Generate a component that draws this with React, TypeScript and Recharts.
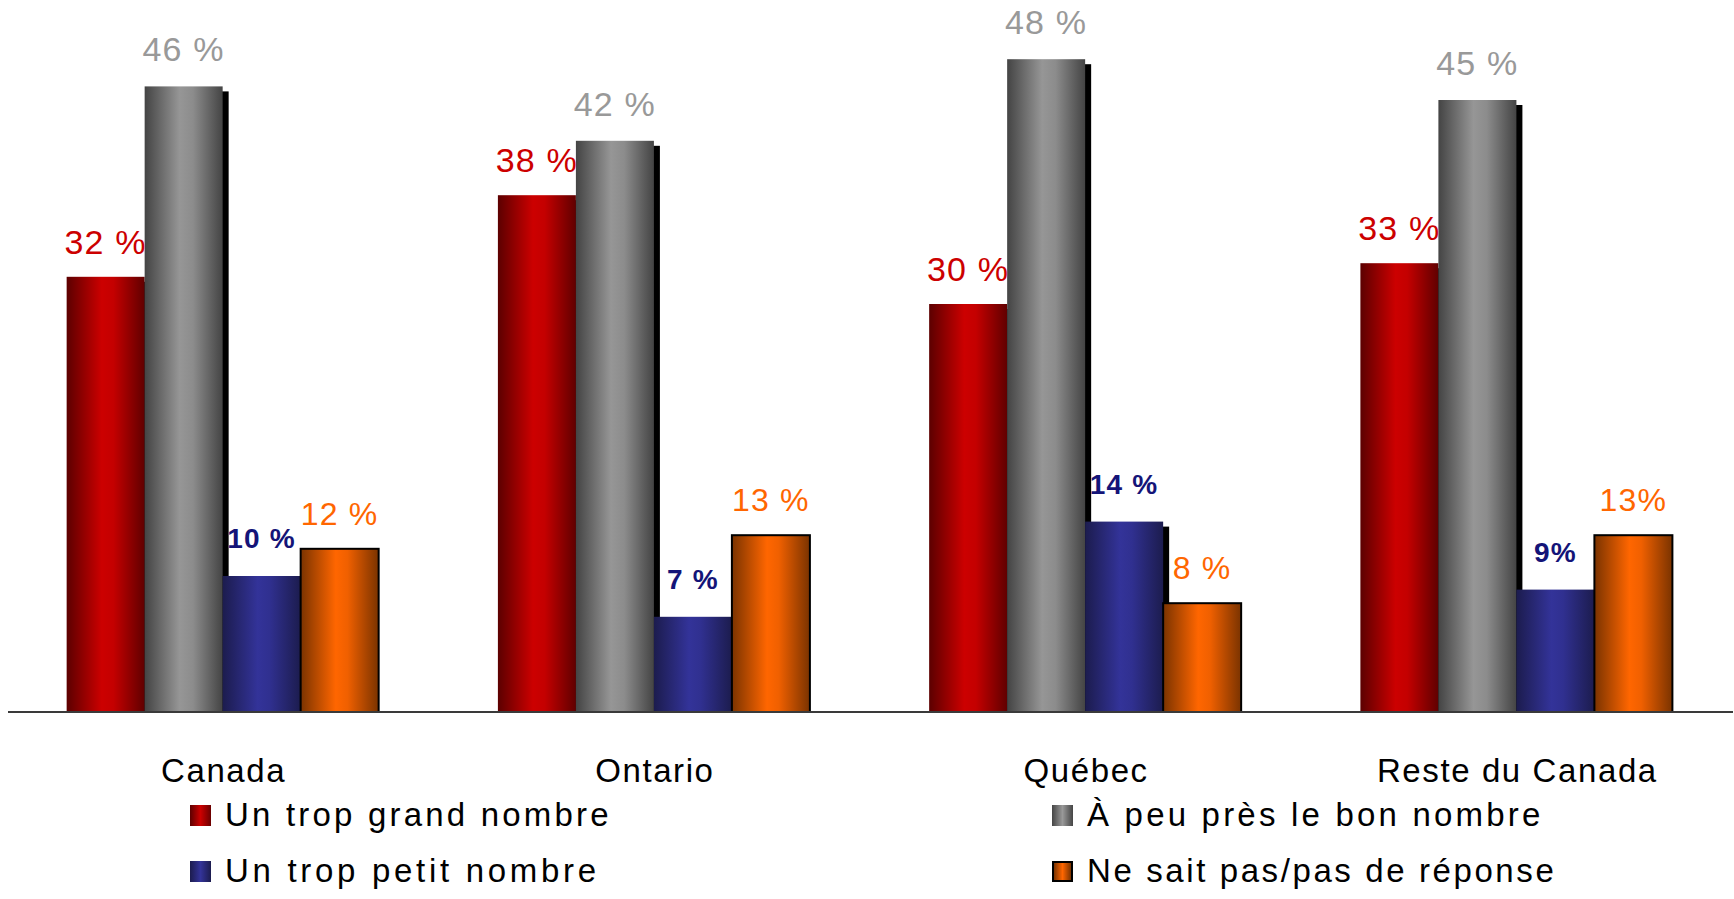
import React from "react";
import { BarChart, Bar, XAxis, YAxis, LabelList, Legend } from "recharts";

const categories = ["Canada", "Ontario", "Québec", "Reste du Canada"];
const tropGrand = [32, 38, 30, 33];
const bonNombre = [46, 42, 48, 45];
const tropPetit = [10, 7, 14, 9];
const nsp = [12, 13, 8, 13];

const tropGrandLabels = ["32 %", "38 %", "30 %", "33 %"];
const bonNombreLabels = ["46 %", "42 %", "48 %", "45 %"];
const tropPetitLabels = ["10 %", "7 %", "14 %", "9%"];
const nspLabels = ["12 %", "13 %", "8 %", "13%"];

const seriesNames = [
  "Un trop grand nombre",
  "À peu près le bon nombre",
  "Un trop petit nombre",
  "Ne sait pas/pas de réponse",
];

const data = categories.map((c, i) => ({
  name: c,
  grand: tropGrand[i],
  bon: bonNombre[i],
  petit: tropPetit[i],
  nsp: nsp[i],
}));

const FONT = "'Liberation Sans', Arial, sans-serif";

const makeShape = (gradId: string, shadow: boolean, stroke?: string) => (props: any) => {
  const { x, y, width, height } = props;
  if (height == null || width == null) return <g />;
  return (
    <g>
      {shadow && (
        <rect x={x + 6} y={y + 5} width={width} height={Math.max(0, height - 5)} fill="#000" />
      )}
      <rect
        x={x}
        y={y}
        width={width}
        height={height}
        fill={`url(#${gradId})`}
        stroke={stroke || "none"}
        strokeWidth={stroke ? 2 : 0}
      />
    </g>
  );
};

const makeLabel =
  (labels: string[], color: string, size: number, weight: number | string, gap: number) =>
  (props: any) => {
    const vb = props.viewBox || {};
    const x = props.x ?? vb.x;
    const y = props.y ?? vb.y;
    const width = props.width ?? vb.width;
    const index = props.index;
    return (
      <text
        x={x + width / 2}
        y={y - gap}
        textAnchor="middle"
        fill={color}
        fontSize={size}
        fontWeight={weight}
        fontFamily={FONT}
        letterSpacing={1.2}
      >
        {labels[index]}
      </text>
    );
  };

const CatTick = (props: any) => {
  const { x, y, payload } = props;
  return (
    <text
      x={x}
      y={y + 70}
      textAnchor="middle"
      fill="#000"
      fontSize={33}
      fontFamily={FONT}
      letterSpacing={1.6}
    >
      {payload.value}
    </text>
  );
};

const markerGrad: Record<string, string> = {
  "Un trop grand nombre": "linear-gradient(to right, #5c0000, #cc0000 50%, #6a0000)",
  "À peu près le bon nombre": "linear-gradient(to right, #454545, #999999 50%, #454545)",
  "Un trop petit nombre": "linear-gradient(to right, #1c1c4e, #333399 50%, #1c1c4e)",
  "Ne sait pas/pas de réponse": "linear-gradient(to right, #7a3300, #ff6600 50%, #7a3300)",
};

const legendPos = [
  { mx: 190, tx: 225, row: 0, ls: 3.2 },
  { mx: 1052, tx: 1087, row: 0, ls: 3.2 },
  { mx: 190, tx: 225, row: 1, ls: 3.7 },
  { mx: 1052, tx: 1087, row: 1, ls: 2.6 },
];

const LegendContent = () => (
  <div style={{ position: "relative", width: 1734, height: 120 }}>
    {seriesNames.map((n, i) => {
      const p = legendPos[i];
      const top = p.row * 56;
      return (
        <React.Fragment key={n}>
          <div
            style={{
              position: "absolute",
              left: p.mx,
              top: top + 15,
              width: 21,
              height: 21,
              background: markerGrad[n],
              boxSizing: "border-box",
              border: i === 3 ? "2px solid #000" : "none",
            }}
          />
          <div
            style={{
              position: "absolute",
              left: p.tx,
              top: top + 1,
              fontFamily: FONT,
              fontSize: 33,
              letterSpacing: p.ls,
              lineHeight: "48px",
              color: "#000",
              whiteSpace: "nowrap",
            }}
          >
            {n}
          </div>
        </React.Fragment>
      );
    })}
  </div>
);

export default function App() {
  return (
    <div style={{ position: "absolute", left: 0, top: 0, width: 1734, height: 899, background: "#fff" }}>
      <BarChart
        width={1734}
        height={899}
        data={data}
        margin={{ top: 32, right: 1, left: 8, bottom: 157 }}
        barCategoryGap="13.6%"
        barGap={0}
      >
        <defs>
          <linearGradient id="gRed" x1="0" y1="0" x2="1" y2="0">
            <stop offset="0" stopColor="#5c0000" />
            <stop offset="0.45" stopColor="#cc0000" />
            <stop offset="0.6" stopColor="#c40000" />
            <stop offset="1" stopColor="#600000" />
          </linearGradient>
          <linearGradient id="gGray" x1="0" y1="0" x2="1" y2="0">
            <stop offset="0" stopColor="#444444" />
            <stop offset="0.45" stopColor="#969696" />
            <stop offset="0.62" stopColor="#8c8c8c" />
            <stop offset="1" stopColor="#444444" />
          </linearGradient>
          <linearGradient id="gBlue" x1="0" y1="0" x2="1" y2="0">
            <stop offset="0" stopColor="#1c1c4e" />
            <stop offset="0.45" stopColor="#333399" />
            <stop offset="0.6" stopColor="#303090" />
            <stop offset="1" stopColor="#1c1c4e" />
          </linearGradient>
          <linearGradient id="gOrange" x1="0" y1="0" x2="1" y2="0">
            <stop offset="0" stopColor="#7a3300" />
            <stop offset="0.45" stopColor="#ff6600" />
            <stop offset="0.6" stopColor="#f06000" />
            <stop offset="1" stopColor="#7a3300" />
          </linearGradient>
        </defs>
        <XAxis
          dataKey="name"
          height={30}
          tickLine={false}
          tickSize={0}
          tickMargin={0}
          axisLine={{ stroke: "#3a3a3a", strokeWidth: 2 }}
          tick={<CatTick />}
          interval={0}
        />
        <YAxis hide domain={[0, 50]} />
        <Legend
          layout="horizontal"
          verticalAlign="middle"
          align="center"
          wrapperStyle={{ left: 0, top: 790, width: 1734 }}
          content={<LegendContent />}
        />
        <Bar dataKey="grand" name={seriesNames[0]} isAnimationActive={false} shape={makeShape("gRed", true)}>
          <LabelList dataKey="grand" content={makeLabel(tropGrandLabels, "#cc0000", 34, 400, 23)} />
        </Bar>
        <Bar dataKey="bon" name={seriesNames[1]} isAnimationActive={false} shape={makeShape("gGray", true)}>
          <LabelList dataKey="bon" content={makeLabel(bonNombreLabels, "#999999", 34, 400, 25)} />
        </Bar>
        <Bar dataKey="petit" name={seriesNames[2]} isAnimationActive={false} shape={makeShape("gBlue", true)}>
          <LabelList dataKey="petit" content={makeLabel(tropPetitLabels, "#141478", 28, 700, 28)} />
        </Bar>
        <Bar dataKey="nsp" name={seriesNames[3]} isAnimationActive={false} shape={makeShape("gOrange", false, "#000")}>
          <LabelList dataKey="nsp" content={makeLabel(nspLabels, "#ff6600", 32, 400, 24)} />
        </Bar>
      </BarChart>
    </div>
  );
}
